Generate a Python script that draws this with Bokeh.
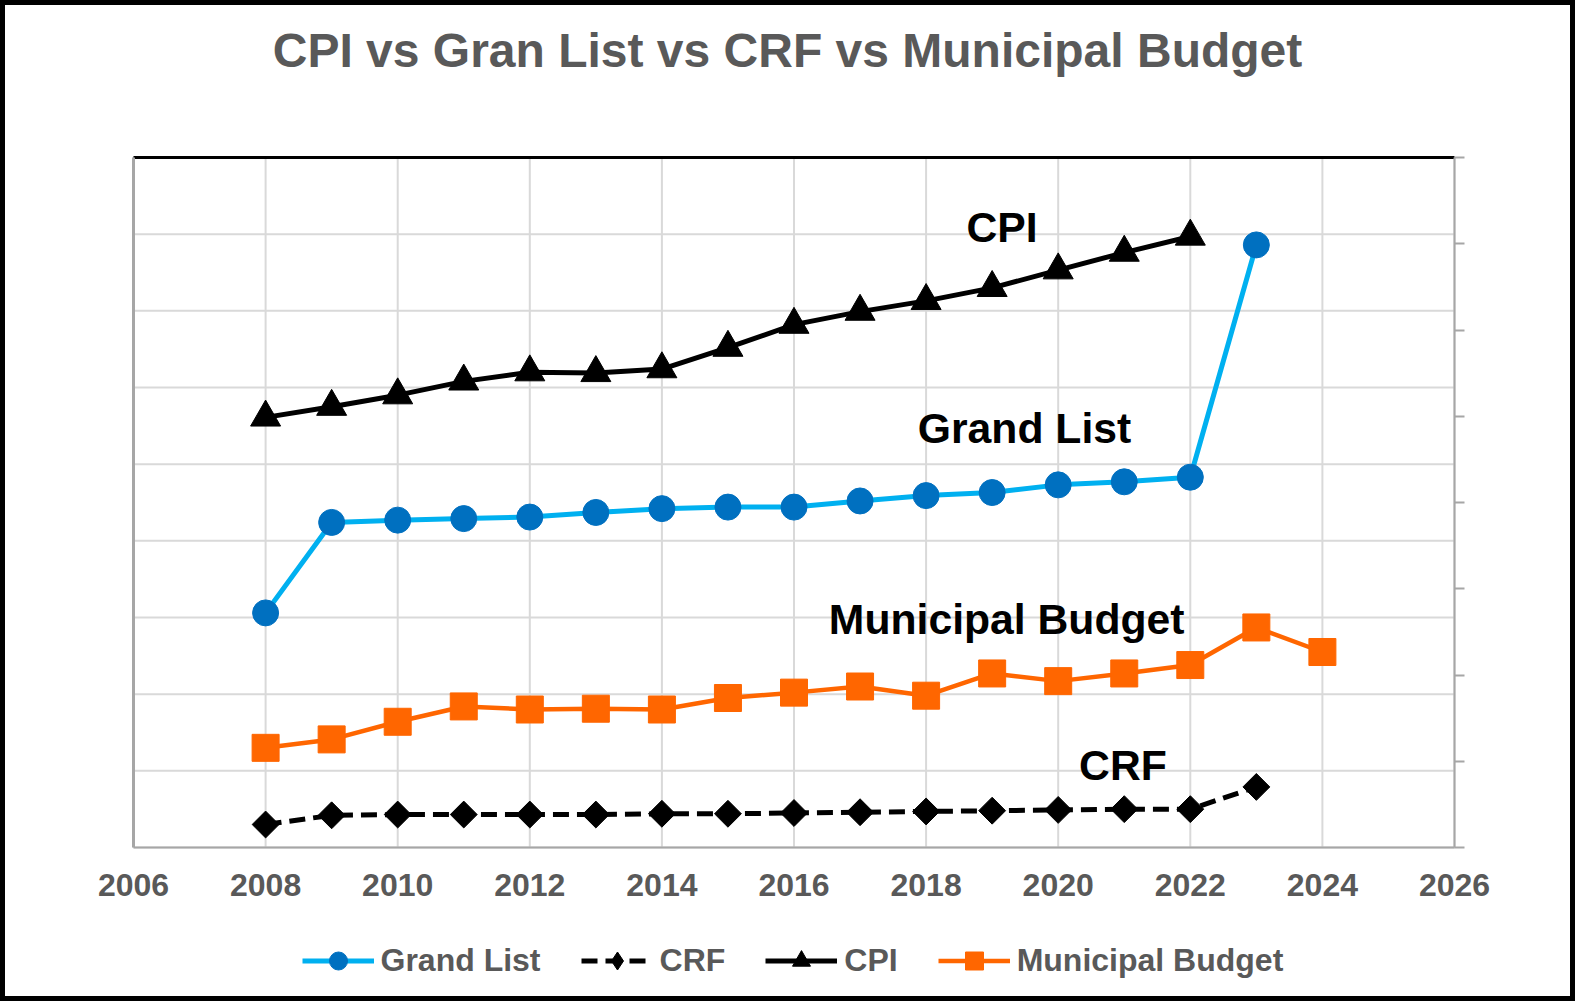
import math
from bokeh.plotting import figure
from bokeh.models import (Range1d, LinearAxis, FixedTicker, Label, Legend,
                          LegendItem, CustomJSTickFormatter)
from bokeh.embed import file_html
from bokeh.resources import INLINE

# ---------------- data (unlabeled value axis units) -------------
cpi_years = [2008, 2009, 2010, 2011, 2012, 2013, 2014, 2015, 2016, 2017, 2018, 2019, 2020, 2021, 2022]
cpi = [5.61, 5.75, 5.90, 6.08, 6.20, 6.19, 6.24, 6.52, 6.82, 6.99, 7.13, 7.30, 7.53, 7.76, 7.97]

grand_years = [2008, 2009, 2010, 2011, 2012, 2013, 2014, 2015, 2016, 2017, 2018, 2019, 2020, 2021, 2022, 2023]
grand_list = [3.06, 4.24, 4.27, 4.29, 4.31, 4.37, 4.42, 4.44, 4.44, 4.52, 4.59, 4.63, 4.73, 4.77, 4.83, 7.86]

crf_years = [2008, 2009, 2010, 2011, 2012, 2013, 2014, 2015, 2016, 2017, 2018, 2019, 2020, 2021, 2022, 2023]
crf = [0.30, 0.42, 0.43, 0.43, 0.43, 0.43, 0.44, 0.44, 0.45, 0.46, 0.47, 0.48, 0.49, 0.50, 0.50, 0.79]

budget_years = [2008, 2009, 2010, 2011, 2012, 2013, 2014, 2015, 2016, 2017, 2018, 2019, 2020, 2021, 2022, 2023, 2024]
budget = [1.30, 1.41, 1.64, 1.84, 1.80, 1.81, 1.80, 1.95, 2.02, 2.10, 1.98, 2.27, 2.17, 2.27, 2.38, 2.87, 2.55]

x_ticks = [2006, 2008, 2010, 2012, 2014, 2016, 2018, 2020, 2022, 2024, 2026]
left_ticks = [0, 1, 2, 3, 4, 5, 6, 7, 8, 9]
right_ticks = [0, 1, 2, 3, 4, 5, 6, 7, 8]

title_text = "CPI vs Gran List vs CRF vs Municipal Budget"
series_names = ["Grand List", "CRF", "CPI", "Municipal Budget"]
# in-chart series labels: (text, x, y)
tags = [("CPI", 2019.15, 8.10), ("Grand List", 2019.49, 5.47),
        ("Municipal Budget", 2019.22, 2.98), ("CRF", 2020.98, 1.08)]

FONT = "Liberation Sans"
GRAY_TXT = "#595959"
AXIS_GRAY = "#a6a6a6"
GRID_GRAY = "#d9d9d9"

# ---------------- geometry: the frame fills the canvas, plot box placed inside --------
W, H = 1575, 1001
BOX_L, BOX_R, BOX_T, BOX_B = 133, 1454, 157, 847   # px inside the canvas
XMIN, XMAX = x_ticks[0], x_ticks[-1]
YMIN, YMAX = left_ticks[0], left_ticks[-1]
px_x = (BOX_R - BOX_L) / (XMAX - XMIN)
px_y = (BOX_B - BOX_T) / (YMAX - YMIN)
x_lo = XMIN - BOX_L / px_x
x_hi = XMAX + (W - BOX_R) / px_x
y_hi = YMAX + BOX_T / px_y
y_lo = YMIN - (H - BOX_B) / px_y
r_scale = right_ticks[-1] / YMAX

p = figure(width=W, height=H,
           x_range=Range1d(x_lo, x_hi), y_range=Range1d(y_lo, y_hi),
           output_backend="svg", toolbar_location=None,
           x_axis_location=None, y_axis_location=None,
           min_border=0, min_border_left=0, min_border_right=0,
           min_border_top=0, min_border_bottom=0)
# outer black frame of the chart (half of the stroke lies outside the canvas)
p.outline_line_color = "black"
p.outline_line_width = 9
p.background_fill_color = "white"
p.border_fill_color = "white"
p.xgrid.visible = False
p.ygrid.visible = False

# gridlines within the plot box, from the tick lists
n_x, n_y = len(x_ticks), len(left_ticks)
p.segment(x0=x_ticks, y0=[YMIN] * n_x, x1=x_ticks, y1=[YMAX] * n_x,
          line_color=GRID_GRAY, line_width=2)
p.segment(x0=[XMIN] * n_y, y0=left_ticks, x1=[XMAX] * n_y, y1=left_ticks,
          line_color=GRID_GRAY, line_width=2)

no_labels = CustomJSTickFormatter(code="return ''")

# bottom axis (labels)
xa = LinearAxis(fixed_location=YMIN, bounds=(XMIN, XMAX), ticker=FixedTicker(ticks=x_ticks),
                major_tick_out=0, major_tick_in=0, minor_tick_line_color=None,
                axis_line_color=AXIS_GRAY, axis_line_width=2,
                major_label_standoff=26, major_label_text_font=FONT,
                major_label_text_font_style="bold", major_label_text_font_size="32px",
                major_label_text_color=GRAY_TXT)
p.add_layout(xa, "below")

# left axis: line only
ya = LinearAxis(fixed_location=XMIN, bounds=(YMIN, YMAX), ticker=FixedTicker(ticks=left_ticks),
                major_tick_out=0, major_tick_in=0, minor_tick_line_color=None,
                axis_line_color=AXIS_GRAY, axis_line_width=3, formatter=no_labels)
p.add_layout(ya, "left")

# top edge: black line
ta = LinearAxis(fixed_location=YMAX, bounds=(XMIN, XMAX), ticker=FixedTicker(ticks=x_ticks),
                major_tick_out=0, major_tick_in=0, minor_tick_line_color=None,
                axis_line_color="black", axis_line_width=3, formatter=no_labels)
p.add_layout(ta, "above")

# right axis with outward ticks (secondary scale)
p.extra_y_ranges = {"r": Range1d(y_lo * r_scale, y_hi * r_scale)}
ra = LinearAxis(y_range_name="r", fixed_location=XMAX,
                bounds=(right_ticks[0], right_ticks[-1]), ticker=FixedTicker(ticks=right_ticks),
                major_tick_out=10, major_tick_in=0, minor_tick_line_color=None,
                axis_line_color=AXIS_GRAY, axis_line_width=2,
                major_tick_line_color=AXIS_GRAY, major_tick_line_width=2,
                formatter=no_labels)
p.add_layout(ra, "right")

# series
gl_line = p.line(grand_years, grand_list, line_color="#00B0F0", line_width=5)
gl_pts = p.scatter(grand_years, grand_list, marker="circle", size=26,
                   fill_color="#0070C0", line_color="#0070C0")

crf_line = p.line(crf_years, crf, line_color="black", line_width=5, line_dash="16 8")
crf_pts = p.scatter(crf_years, crf, marker="square", angle=math.pi / 4, size=19,
                    fill_color="black", line_color="black")
# diamond glyph (hidden inside the rotated squares) used for the legend key
crf_key = p.scatter(crf_years, crf, marker="diamond", size=18,
                    fill_color="black", line_color="black")

cpi_line = p.line(cpi_years, cpi, line_color="black", line_width=5)
cpi_pts = p.scatter(cpi_years, cpi, marker="triangle", size=30,
                    fill_color="black", line_color="black")

mb_line = p.line(budget_years, budget, line_color="#FF6600", line_width=4.5)
mb_pts = p.scatter(budget_years, budget, marker="square", size=27,
                   fill_color="#FF6600", line_color="#FF6600")

legend = Legend(items=[
    LegendItem(label=series_names[0], renderers=[gl_line, gl_pts]),
    LegendItem(label=series_names[1], renderers=[crf_line, crf_key]),
    LegendItem(label=series_names[2], renderers=[cpi_line, cpi_pts]),
    LegendItem(label=series_names[3], renderers=[mb_line, mb_pts]),
], orientation="horizontal", location=(301.5, H - 983), glyph_width=72, glyph_height=45,
    label_standoff=7, spacing=40, padding=0, margin=0,
    border_line_color=None, background_fill_alpha=0,
    label_text_font=FONT, label_text_font_style="bold",
    label_text_font_size="32px", label_text_color=GRAY_TXT)
p.add_layout(legend, "center")

for txt, tx, ty in tags:
    p.add_layout(Label(x=tx, y=ty, text=txt, text_align="center", text_baseline="alphabetic",
                       text_font=FONT, text_font_style="bold", text_font_size="42.7px",
                       text_color="black"))

p.add_layout(Label(x=787, y=H - 50, x_units="screen", y_units="screen", text=title_text,
                   text_align="center", text_baseline="alphabetic",
                   text_font=FONT, text_font_style="bold", text_font_size="48px",
                   text_color=GRAY_TXT))

open("out.html", "w").write(file_html(p, INLINE))
